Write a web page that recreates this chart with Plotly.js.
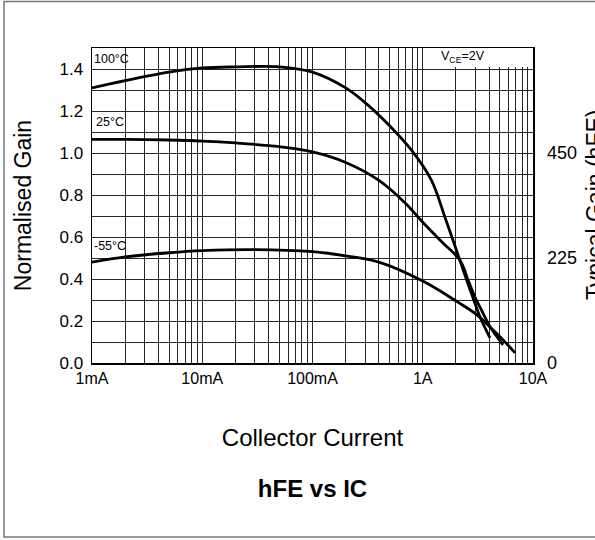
<!DOCTYPE html>
<html>
<head>
<meta charset="utf-8">
<script src="https://cdn.plot.ly/plotly-3.0.1.min.js"></script>
<style>html,body{margin:0;padding:0;background:#fff;}#chart{width:595px;height:540px;}</style>
</head>
<body>
<div id="chart"></div>
<script>
// Collector current in mA, normalised gain
const ic100 = [1, 2, 5, 10, 20, 50, 100, 200, 300, 500, 800, 1200, 1600, 2170, 2500, 2860, 3300, 4070];
const g100  = [1.31, 1.345, 1.385, 1.405, 1.41, 1.41, 1.385, 1.31, 1.24, 1.13, 1.01, 0.87, 0.69, 0.49, 0.395, 0.31, 0.22, 0.12];

const ic25 = [1, 2, 5, 10, 20, 50, 100, 200, 400, 700, 1000, 1500, 2170, 2600, 3000, 3500, 4000, 5350];
const g25  = [1.065, 1.065, 1.062, 1.057, 1.048, 1.03, 1.005, 0.955, 0.87, 0.76, 0.67, 0.575, 0.49, 0.39, 0.31, 0.24, 0.18, 0.086];

const icm55 = [1, 2, 5, 10, 30, 100, 200, 400, 1000, 2080, 3000, 4000, 5350, 6870];
const gm55  = [0.48, 0.505, 0.525, 0.535, 0.54, 0.53, 0.51, 0.48, 0.39, 0.29, 0.235, 0.175, 0.11, 0.048];

const xTickVals = [1, 10, 100, 1000, 10000];
const xTickText = ['1mA', '10mA', '100mA', '1A', '10A'];
const yTickVals = [0, 0.2, 0.4, 0.6, 0.8, 1.0, 1.2, 1.4];
const yTickText = ['0.0', '0.2', '0.4', '0.6', '0.8', '1.0', '1.2', '1.4'];
const hfeTickVals = [0, 225, 450];

const labels = [
  {text: '100°C', x: 1, y: 1.45},
  {text: '25°C', x: 1.05, y: 1.15},
  {text: '-55°C', x: 1, y: 0.555},
  {text: 'V<sub>CE</sub>=2V', x: 1400, y: 1.455}
];

const font = 'Liberation Sans, Arial, Helvetica, sans-serif';
const lineStyle = {color: '#000', width: 2.8, shape: 'spline', smoothing: 1};

const traces = [
  {x: ic100, y: g100, mode: 'lines', line: lineStyle, name: '100°C', hoverinfo: 'skip'},
  {x: ic25, y: g25, mode: 'lines', line: lineStyle, name: '25°C', hoverinfo: 'skip'},
  {x: icm55, y: gm55, mode: 'lines', line: lineStyle, name: '-55°C', hoverinfo: 'skip'},
  {x: [1], y: [0], yaxis: 'y2', mode: 'markers', marker: {opacity: 0}, showlegend: false, hoverinfo: 'skip'}
];

// white label boxes (cover grid, under curves)
const boxes = [
  {x0: 1, x1: 1.37, y0: 1.405, y1: 1.5},
  {x0: 1.05, x1: 1.5, y0: 1.105, y1: 1.195},
  {x0: 1, x1: 1.45, y0: 0.51, y1: 0.595},
  {x0: 1300, x1: 10000, y0: 1.41, y1: 1.5}
].map(b => ({type: 'rect', xref: 'x', yref: 'y', x0: b.x0, x1: b.x1, y0: b.y0, y1: b.y1,
  fillcolor: '#fff', line: {width: 0}, layer: 'between'}));

const frame = {type: 'rect', xref: 'paper', yref: 'paper',
  x0: (4 - 92) / 441, x1: (600 - 92) / 441, y0: (363 - 537) / 315, y1: (363 - 1.5) / 315,
  line: {color: '#777', width: 1.5}, fillcolor: 'rgba(0,0,0,0)', layer: 'above'};

const annos = labels.map(l => ({text: l.text, x: Math.log10(l.x), y: l.y, xref: 'x', yref: 'y',
  xanchor: 'left', yanchor: 'middle', showarrow: false, font: {size: 12.5, color: '#000'}}));
// right-hand axis title, running off the page edge as in the original
annos.push({text: 'Typical Gain (hFE)', xref: 'paper', yref: 'paper',
  x: (595 - 92) / 441, y: (363 - 205) / 315, xanchor: 'center', yanchor: 'middle',
  textangle: -90, showarrow: false, font: {size: 23, color: '#000'}});

const layout = {
  width: 595, height: 540,
  margin: {l: 92, r: 62, t: 48, b: 177},
  paper_bgcolor: '#fff', plot_bgcolor: '#fff',
  showlegend: false,
  font: {family: font, color: '#000', size: 16},
  title: {text: '<b>hFE vs IC</b>', font: {family: font, size: 24, color: '#000'},
    x: 0.5, xanchor: 'center', xref: 'paper', y: 1 - 489 / 540, yanchor: 'middle', yref: 'container'},
  xaxis: {
    type: 'log', range: [0, 4],
    tickvals: xTickVals, ticktext: xTickText, ticks: '', ticklen: 0,
    showgrid: true, gridcolor: '#262626', gridwidth: 1,
    minor: {dtick: 'D1', showgrid: true, gridcolor: '#262626', gridwidth: 1, ticks: ''},
    showline: true, linecolor: '#000', linewidth: 1.5, mirror: true,
    zeroline: false, tickfont: {size: 16},
    title: {text: 'Collector Current', font: {size: 24}, standoff: 43}
  },
  yaxis: {
    range: [0, 1.5], tickvals: yTickVals, ticktext: yTickText, ticks: '',
    showgrid: true, gridcolor: '#262626', gridwidth: 1,
    minor: {dtick: 0.1, showgrid: true, gridcolor: '#262626', gridwidth: 1, ticks: ''},
    showline: true, linecolor: '#000', linewidth: 1.5, mirror: true,
    zeroline: false, tickfont: {size: 17}, ticklabelstandoff: 4,
    title: {text: 'Normalised Gain', font: {size: 23}, standoff: 21}
  },
  yaxis2: {
    overlaying: 'y', side: 'right', range: [0, 675], tickvals: hfeTickVals,
    showgrid: false, zeroline: false, ticks: '', showline: false,
    tickfont: {size: 18}, ticklabelstandoff: 13
  },
  shapes: boxes.concat([frame]),
  annotations: annos
};

Plotly.newPlot('chart', traces, layout, {displayModeBar: false, staticPlot: true});
</script>
</body>
</html>
